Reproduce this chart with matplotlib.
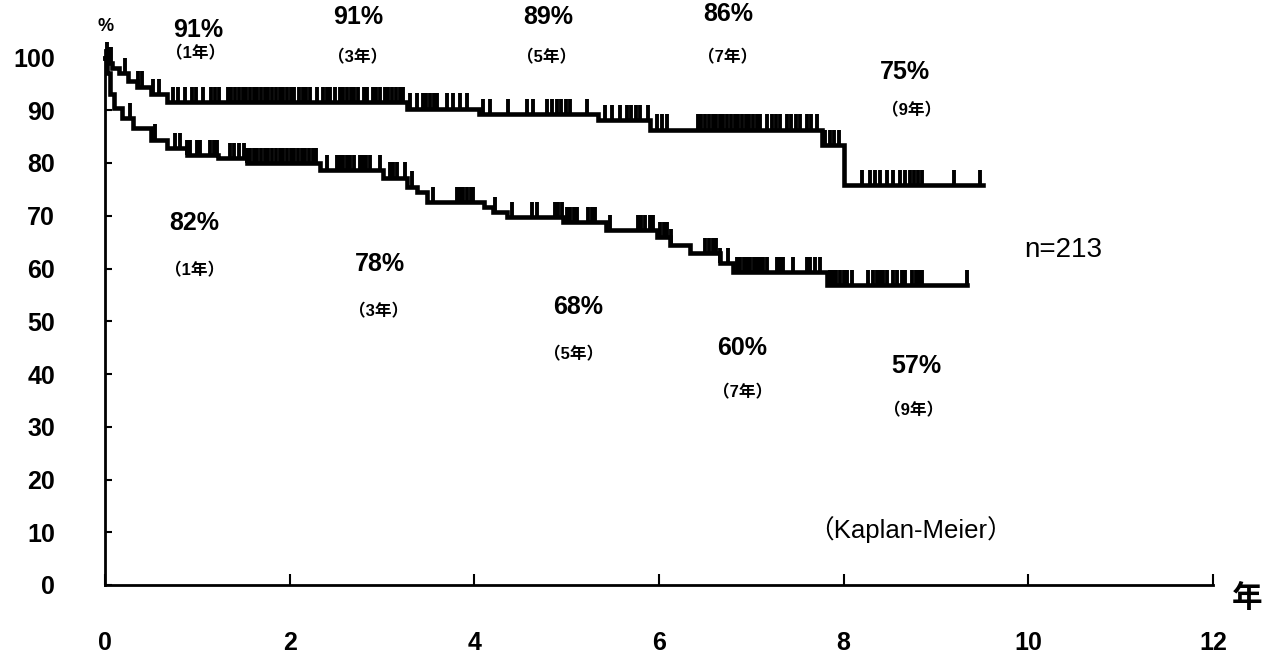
import numpy as np
import matplotlib
matplotlib.use("Agg")
import matplotlib.pyplot as plt

plt.rcParams['font.family'] = ['Liberation Sans', 'Noto Sans CJK JP', 'DejaVu Sans']

# ---- data ----
upper_times = [0, 0.03, 0.08, 0.15, 0.25, 0.35, 0.5, 0.67, 3.27, 4.05, 5.34, 5.9, 7.77, 8.0]
upper_surv = [100, 99, 98, 97, 95.5, 94.5, 93, 91.6, 90.3, 89.3, 88.1, 86.3, 83.4, 75.8]
upper_end = 9.51
upper_censor = [0.02, 0.04, 0.06, 0.22, 0.36, 0.40, 0.52, 0.58, 0.74, 0.79, 0.87, 0.94, 0.99,
                1.06, 1.15, 1.19, 1.23, 1.33, 1.37, 1.41, 1.45, 1.49, 1.53, 1.57, 1.61, 1.65,
                1.69, 1.73, 1.77, 1.81, 1.85, 1.89, 1.93, 1.97, 2.01, 2.05, 2.10, 2.14, 2.18,
                2.22, 2.30, 2.36, 2.40, 2.44, 2.49, 2.55, 2.58, 2.62, 2.66, 2.70, 2.74, 2.80,
                2.84, 2.90, 2.94, 2.98, 3.03, 3.07, 3.11, 3.15, 3.19, 3.23, 3.30, 3.38, 3.44,
                3.48, 3.52, 3.56, 3.60, 3.70, 3.77, 3.84, 3.92, 4.09, 4.17, 4.36, 4.57, 4.64,
                4.79, 4.84, 4.89, 4.94, 4.99, 5.04, 5.22, 5.42, 5.49, 5.58, 5.65, 5.70, 5.75,
                5.79, 5.88, 5.98, 6.03, 6.09, 6.42, 6.46, 6.50, 6.54, 6.58, 6.62, 6.66, 6.69,
                6.74, 6.78, 6.82, 6.86, 6.90, 6.94, 6.98, 7.02, 7.06, 7.09, 7.17, 7.22, 7.27,
                7.31, 7.39, 7.43, 7.48, 7.53, 7.60, 7.65, 7.71, 7.80, 7.85, 7.90, 7.95, 8.2,
                8.29, 8.34, 8.39, 8.47, 8.53, 8.61, 8.66, 8.72, 8.76, 8.80, 8.85, 9.2, 9.48]

lower_times = [0, 0.02, 0.05, 0.1, 0.18, 0.3, 0.5, 0.67, 0.89, 1.22, 1.54, 2.33, 3.01, 3.27,
               3.38, 3.49, 4.1, 4.2, 4.35, 4.96, 5.43, 5.98, 6.12, 6.34, 6.66, 6.8, 7.82]
lower_surv = [100, 97, 93, 90.5, 88.5, 86.6, 84.4, 82.8, 81.5, 80.9, 80.0, 78.6, 77.2, 75.5,
              74.5, 72.6, 71.7, 70.7, 69.8, 68.8, 67.3, 66.0, 64.5, 62.9, 61.0, 59.3, 56.8]
lower_end = 9.34
lower_censor = [0.27, 0.54, 0.76, 0.81, 0.89, 0.92, 1.0, 1.03, 1.14, 1.18, 1.21, 1.35, 1.40,
                1.45, 1.50, 1.54, 1.57, 1.61, 1.65, 1.69, 1.73, 1.77, 1.81, 1.85, 1.89, 1.93,
                1.97, 2.01, 2.05, 2.09, 2.13, 2.17, 2.21, 2.25, 2.29, 2.40, 2.51, 2.55, 2.58,
                2.62, 2.65, 2.70, 2.76, 2.79, 2.83, 2.87, 2.98, 3.09, 3.12, 3.16, 3.25, 3.32,
                3.55, 3.81, 3.84, 3.88, 3.92, 3.96, 3.99, 4.22, 4.41, 4.62, 4.68, 4.87, 4.91,
                4.95, 5.0, 5.04, 5.08, 5.11, 5.23, 5.27, 5.31, 5.47, 5.77, 5.81, 5.85, 5.90,
                5.94, 6.01, 6.05, 6.09, 6.13, 6.5, 6.54, 6.58, 6.62, 6.66, 6.75, 6.84, 6.88,
                6.92, 6.95, 6.99, 7.03, 7.06, 7.09, 7.13, 7.17, 7.28, 7.31, 7.34, 7.45, 7.6,
                7.64, 7.69, 7.74, 7.85, 7.88, 7.92, 7.96, 8.0, 8.04, 8.09, 8.26, 8.32, 8.36,
                8.39, 8.43, 8.47, 8.53, 8.58, 8.63, 8.66, 8.74, 8.78, 8.82, 8.85, 9.34]

upper_labels = ["91%", "91%", "89%", "86%", "75%"]
lower_labels = ["82%", "78%", "68%", "60%", "57%"]
year_labels = ["（1年）", "（3年）", "（5年）", "（7年）", "（9年）"]
x_ticks = [0, 2, 4, 6, 8, 10, 12]
y_ticks = [0, 10, 20, 30, 40, 50, 60, 70, 80, 90, 100]

# ---- figure ----
fig = plt.figure(figsize=(12.81, 6.61), dpi=100)
ax = fig.add_axes([105 / 1281, 1 - 585 / 661, (1213 - 105) / 1281, (585 - 57.5) / 661])
ax.set_xlim(0, 12)
ax.set_ylim(0, 100)


def km(ax, times, surv, end, censor):
    t = np.array(times + [end])
    s = np.array(surv + [surv[-1]])
    ax.plot(t, s, drawstyle='steps-post', color='black', lw=3.3, clip_on=False,
            solid_joinstyle='miter')
    c = np.array(censor)
    idx = np.searchsorted(np.array(times), c, side='right') - 1
    cs = np.array(surv)[idx]
    ax.vlines(c, cs, cs + 2.9, color='black', lw=2.8, clip_on=False)


km(ax, upper_times, upper_surv, upper_end, upper_censor)
km(ax, lower_times, lower_surv, lower_end, lower_censor)

for sp in ['top', 'right']:
    ax.spines[sp].set_visible(False)
for sp in ['left', 'bottom']:
    ax.spines[sp].set_linewidth(2.0)
    ax.spines[sp].set_color('black')
ax.spines['left'].set_bounds(0, 101.5)

ax.set_xticks(x_ticks)
ax.set_xticklabels([str(v) for v in x_ticks])
ax.set_yticks(y_ticks)
ax.set_yticklabels([str(v) for v in y_ticks])
ax.tick_params(axis='x', direction='in', length=8, width=1.5, pad=33, labelsize=18)
ax.tick_params(axis='y', direction='in', length=5, width=1.5, pad=36, labelsize=18)
for lab in ax.get_xticklabels() + ax.get_yticklabels():
    lab.set_fontweight('bold')

# ---- annotations ----
up_pos = [(1.01, 105.2), (2.74, 107.6), (4.8, 107.6), (6.75, 108.3), (8.66, 97.3)]
up_yr = [(0.98, 100.7), (2.73, 100.1), (4.78, 100.1), (6.74, 100.1), (8.74, 89.9)]
lo_pos = [(0.97, 68.6), (2.98, 60.9), (5.12, 52.7), (6.9, 44.9), (8.79, 41.5)]
lo_yr = [(0.97, 59.7), (2.96, 51.9), (5.08, 43.8), (6.9, 36.6), (8.76, 33.2)]

for lab, (x, y) in zip(upper_labels, up_pos):
    ax.text(x, y, lab, ha='center', va='center', fontsize=18, fontweight='bold', clip_on=False)
for lab, (x, y) in zip(year_labels, up_yr):
    ax.text(x, y, lab, ha='center', va='center', fontsize=12, fontweight='bold', clip_on=False)
for lab, (x, y) in zip(lower_labels, lo_pos):
    ax.text(x, y, lab, ha='center', va='center', fontsize=18, fontweight='bold', clip_on=False)
for lab, (x, y) in zip(year_labels, lo_yr):
    ax.text(x, y, lab, ha='center', va='center', fontsize=12, fontweight='bold', clip_on=False)

ax.text(0.01, 105.8, "%", ha='center', va='center', fontsize=13, fontweight='bold', clip_on=False)
ax.text(12.37, -2.5, "年", ha='center', va='center', fontsize=22, fontweight='bold',
        family=['Noto Sans CJK JP', 'DejaVu Sans'], clip_on=False)
ax.text(10.38, 63.5, "n=213", ha='center', va='center', fontsize=20, clip_on=False)
ax.text(8.72, 10.6, "（Kaplan-Meier）", ha='center', va='center', fontsize=18.5,
        clip_on=False)

fig.savefig("out.png", dpi=100)
